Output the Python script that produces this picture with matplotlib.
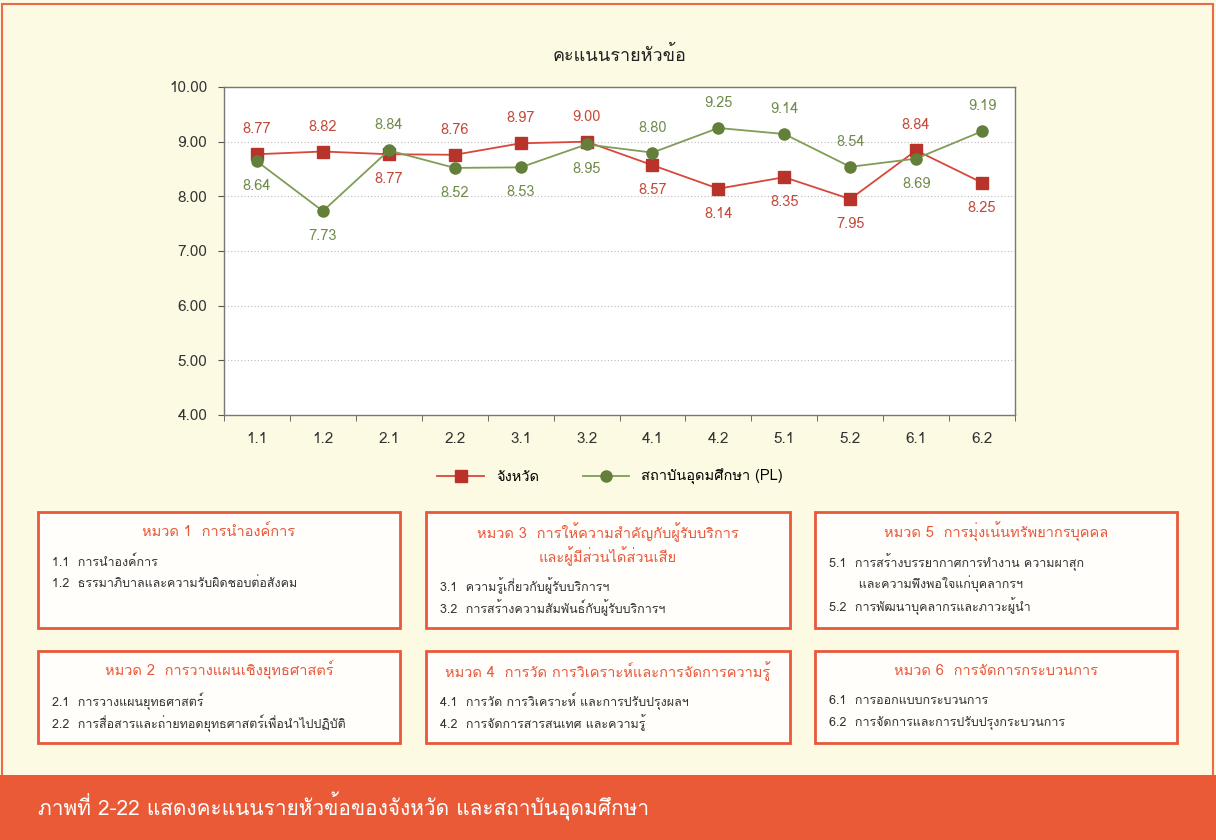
# -*- coding: utf-8 -*-
# Scores by item: province vs higher-education institutions (PL)
import numpy as np
import matplotlib
matplotlib.use("Agg")
import matplotlib.pyplot as plt
from matplotlib import font_manager as fm
from matplotlib.ft2font import FT2Font
from matplotlib.patches import Rectangle

# Data
categories = ["1.1", "1.2", "2.1", "2.2", "3.1", "3.2", "4.1", "4.2", "5.1", "5.2", "6.1", "6.2"]
province = [8.77, 8.82, 8.77, 8.76, 8.97, 9.00, 8.57, 8.14, 8.35, 7.95, 8.84, 8.25]
institution = [8.64, 7.73, 8.84, 8.52, 8.53, 8.95, 8.80, 9.25, 9.14, 8.54, 8.69, 9.19]
series_names = ["จังหวัด", "สถาบันอุดมศึกษา (PL)"]
chart_title = "คะแนนรายหัวข้อ"
caption = "ภาพที่ 2-22 แสดงคะแนนรายหัวข้อของจังหวัด และสถาบันอุดมศึกษา"

box_titles = [
    ["หมวด 1  การนำองค์การ"],
    ["หมวด 2  การวางแผนเชิงยุทธศาสตร์"],
    ["หมวด 3  การให้ความสำคัญกับผู้รับบริการ", "และผู้มีส่วนได้ส่วนเสีย"],
    ["หมวด 4  การวัด การวิเคราะห์และการจัดการความรู้"],
    ["หมวด 5  การมุ่งเน้นทรัพยากรบุคคล"],
    ["หมวด 6  การจัดการกระบวนการ"],
]
box_items = [
    ["1.1  การนำองค์การ", "1.2  ธรรมาภิบาลและความรับผิดชอบต่อสังคม"],
    ["2.1  การวางแผนยุทธศาสตร์", "2.2  การสื่อสารและถ่ายทอดยุทธศาสตร์เพื่อนำไปปฏิบัติ"],
    ["3.1  ความรู้เกี่ยวกับผู้รับบริการฯ", "3.2  การสร้างความสัมพันธ์กับผู้รับบริการฯ"],
    ["4.1  การวัด การวิเคราะห์ และการปรับปรุงผลฯ", "4.2  การจัดการสารสนเทศ และความรู้"],
    ["5.1  การสร้างบรรยากาศการทำงาน ความผาสุก", "       และความพึงพอใจแก่บุคลากรฯ",
     "5.2  การพัฒนาบุคลากรและภาวะผู้นำ"],
    ["6.1  การออกแบบกระบวนการ", "6.2  การจัดการและการปรับปรุงกระบวนการ"],
]

# Find a font that has Thai glyphs (regular weight first)
thai_fams = []
fonts = sorted(fm.fontManager.ttflist,
               key=lambda f: (f.weight not in (400, "normal", "regular"), f.style != "normal"))
for f in fonts:
    try:
        if FT2Font(f.fname).get_char_index(ord("ก")) and f.name not in thai_fams:
            thai_fams.append(f.name)
    except Exception:
        pass
plt.rcParams["font.family"] = thai_fams[:1] + ["DejaVu Sans"]

# Colours
bg = "#fdfae3"
orange = "#e8583a"
red_line = "#d9473a"
red_mark = "#b8342b"
red_text = "#c4493a"
green_line = "#7f9d57"
green_mark = "#62803a"
green_text = "#708c4c"

W, H = 1216, 840
fig = plt.figure(figsize=(W / 100, H / 100), dpi=100, facecolor=bg)


def fx(x):
    return x / W


def fy(y):
    return 1 - y / H


# Chart
ax = fig.add_axes([fx(224), fy(415), fx(1015) - fx(224), fy(87) - fy(415)])
ax.set_facecolor("white")
x = np.arange(len(categories))
prov = np.array(province)
inst = np.array(institution)

ax.plot(x, prov, color=red_line, lw=1.3, marker="s", ms=8, mfc=red_mark, mec=red_mark,
        label=series_names[0], zorder=3)
ax.plot(x, inst, color=green_line, lw=1.3, marker="o", ms=8, mfc=green_mark, mec=green_mark,
        label=series_names[1], zorder=3)

for i in range(len(categories)):
    up = prov[i] >= inst[i]
    ax.annotate(f"{prov[i]:.2f}", (x[i], prov[i]), xytext=(0, 18 if up else -18),
                textcoords="offset points", ha="center", va="center", fontsize=10.5,
                color=red_text)
    ax.annotate(f"{inst[i]:.2f}", (x[i], inst[i]), xytext=(0, -18 if up else 18),
                textcoords="offset points", ha="center", va="center", fontsize=10.5,
                color=green_text)

ax.set_xlim(-0.5, len(categories) - 0.5)
ax.set_ylim(4, 10)
ax.set_yticks(np.arange(4, 10.5, 1))
ax.set_yticklabels([f"{v:.2f}" for v in np.arange(4, 10.5, 1)], fontsize=11, color="#333333")
ax.set_xticks(x)
ax.set_xticklabels(categories, fontsize=11, color="#333333")
ax.set_xticks(np.arange(-0.5, len(categories), 1), minor=True)
ax.tick_params(axis="x", which="major", length=0, pad=12)
ax.tick_params(axis="x", which="minor", length=4, color="#555555")
ax.tick_params(axis="y", length=4, color="#555555", pad=8)
for yv in range(5, 10):
    ax.axhline(yv, color="#bbbbbb", lw=0.8, ls=(0, (1, 2)), zorder=1)
for s in ax.spines.values():
    s.set_color("#777777")
    s.set_linewidth(1)

fig.text(fx(620), fy(55), chart_title, ha="center", va="center", fontsize=13,
         fontweight="normal", color="#222222")
fig.legend(loc="center", bbox_to_anchor=(fx(610), fy(477)), ncol=2, frameon=False,
           fontsize=10.5, handlelength=3.2, columnspacing=3)

# Boxes with category descriptions
col_x = [(38, 400), (426, 790), (815, 1177)]
row_y = [(512, 628), (651, 743)]
order = [(0, 0), (0, 1), (1, 0), (1, 1), (2, 0), (2, 1)]
for k, (c, r) in enumerate(order):
    x0, x1 = col_x[c]
    y0, y1 = row_y[r]
    fig.patches.append(Rectangle((fx(x0), fy(y1)), fx(x1) - fx(x0), fy(y0) - fy(y1),
                                 transform=fig.transFigure, facecolor="#fffefb",
                                 edgecolor=orange, lw=2))
    ty = y0 + 20
    for line in box_titles[k]:
        fig.text(fx((x0 + x1) / 2), fy(ty), line, ha="center", va="center",
                 fontsize=10.5, color=orange)
        ty += 24
    iy = ty + 6
    for line in box_items[k]:
        fig.text(fx(x0 + 14), fy(iy), line, ha="left", va="center", fontsize=9,
                 color="#333333")
        iy += 22

# outer frame
fig.patches.append(Rectangle((fx(2), fy(800)), fx(1213) - fx(2), fy(4) - fy(800),
                             transform=fig.transFigure, facecolor="none",
                             edgecolor="#ec6a48", lw=1.5))

# Caption band
fig.patches.append(Rectangle((0, 0), 1, fy(775), transform=fig.transFigure,
                             facecolor="#ea5a37", edgecolor="none"))
fig.text(fx(38), fy(806), caption, ha="left", va="center", fontsize=15, color="white")

fig.savefig("out.png", dpi=100, facecolor=bg)
